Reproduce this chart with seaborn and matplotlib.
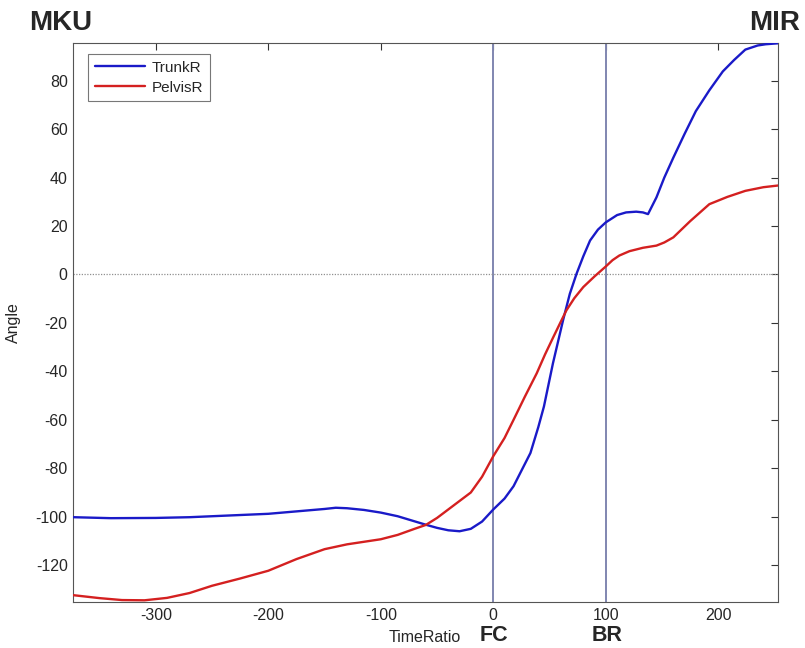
import matplotlib
matplotlib.use('Agg')
import matplotlib.pyplot as plt
import seaborn as sns
import pandas as pd

# valores
trunk_x = [-373, -340, -300, -270, -250, -220, -200, -175, -150, -140, -130, -115, -100, -85, -75,
           -60, -50, -40, -30, -20, -10, 0, 10, 18, 25, 33, 40, 45, 53, 62, 68, 74, 80, 86, 93,
           100, 110, 118, 127, 133, 137.5, 145, 152, 160, 170, 180, 192, 204, 214, 224, 235, 242, 253]
trunk_y = [-100.2, -100.6, -100.5, -100.2, -99.8, -99.2, -98.8, -97.8, -96.8, -96.3, -96.5, -97.2, -98.3, -99.8, -101.2,
           -103.3, -104.6, -105.6, -106.0, -105.0, -102.0, -97.0, -92.5, -87.4, -81, -73.7, -63, -54.5, -36.7, -18.9, -8, 0.3, 7.5, 14, 18.5,
           21.5, 24.5, 25.6, 25.9, 25.6, 24.9, 31.8, 40, 48.2, 58, 67.4, 76, 83.8, 88.5, 92.8, 94.5, 95, 95.4]

pelvis_x = [-373, -350, -330, -310, -290, -270, -250, -225, -200, -175, -150, -130, -110, -100, -85, -70,
            -60, -50, -40, -30, -20, -10, 0, 10, 18, 28, 38.6, 46, 53.4, 60, 65, 72, 80, 90, 100,
            106, 112, 121, 133, 145, 152, 160, 175, 192, 208, 224, 240, 253]
pelvis_y = [-132.4, -133.6, -134.4, -134.5, -133.5, -131.5, -128.5, -125.5, -122.3, -117.5, -113.4, -111.4, -110.0, -109.3, -107.5, -105,
            -103.4, -100.5, -97, -93.5, -90, -83.5, -75, -67.5, -60, -50.5, -40.8, -33, -25.8, -19.5, -14.8, -9.8, -5.2, -0.8, 3.3,
            5.9, 7.8, 9.6, 11, 11.9, 13.2, 15.3, 22, 29, 32, 34.5, 36, 36.7]

linhas_v = [0, 100]

df = pd.concat([
    pd.DataFrame({'TimeRatio': trunk_x, 'Angle': trunk_y, 'Serie': 'TrunkR'}),
    pd.DataFrame({'TimeRatio': pelvis_x, 'Angle': pelvis_y, 'Serie': 'PelvisR'}),
])

sns.set_style('white')
plt.rcParams['font.family'] = ['Liberation Sans', 'DejaVu Sans']
plt.rcParams['axes.unicode_minus'] = False
plt.rcParams['xtick.direction'] = 'in'
plt.rcParams['ytick.direction'] = 'in'

fig = plt.figure(figsize=(8.05, 6.48), dpi=100)
ax = fig.add_axes([73.3 / 805, 1 - 602 / 648, (778.3 - 73.3) / 805, (602 - 43.3) / 648])

# linhas de referência
for v in linhas_v:
    ax.axvline(v, color='#8086b0', lw=1.4, zorder=1)
ax.axhline(0, color='#909090', lw=0.9, ls=(0, (1, 1.2)), zorder=1)

sns.lineplot(data=df, x='TimeRatio', y='Angle', hue='Serie', sort=False,
             palette={'TrunkR': '#1a1ac8', 'PelvisR': '#d42020'}, lw=1.7, ax=ax, zorder=3)

ax.set_xlim(-373.3, 253.3)
ax.set_ylim(-135.2, 95.4)
ax.set_xticks([-300, -200, -100, 0, 100, 200])
ax.set_yticks(range(-120, 81, 20))
ax.tick_params(top=True, right=True, length=5, width=0.8, labelsize=11.5, color='#333333', pad=4)
for s in ax.spines.values():
    s.set_color('#555555')
    s.set_linewidth(0.8)

ax.set_xlabel('')
ax.set_ylabel('Angle', fontsize=11.5)
ax.yaxis.set_label_coords(-0.074, 0.5)
fig.text(425 / 805, 1 - 637 / 648, 'TimeRatio', fontsize=11.5, ha='center', va='center')

leg = ax.legend(loc='upper left', bbox_to_anchor=(0.0205, 0.981), frameon=True, fancybox=False,
                edgecolor='#555555', fontsize=11, handlelength=3.3, handletextpad=0.45,
                borderpad=0.45, labelspacing=0.38, borderaxespad=0)
leg.get_frame().set_linewidth(0.8)

# rótulos em negrito
fig.text(60.5 / 805, 1 - 23 / 648, 'MKU', fontsize=20, fontweight='bold', ha='center', va='center')
fig.text(775 / 805, 1 - 23 / 648, 'MIR', fontsize=20, fontweight='bold', ha='center', va='center')
fig.text(494 / 805, 1 - 635.5 / 648, 'FC', fontsize=15.5, fontweight='bold', ha='center', va='center')
fig.text(606.7 / 805, 1 - 635.5 / 648, 'BR', fontsize=15.5, fontweight='bold', ha='center', va='center')

plt.savefig('out.png', dpi=100)
